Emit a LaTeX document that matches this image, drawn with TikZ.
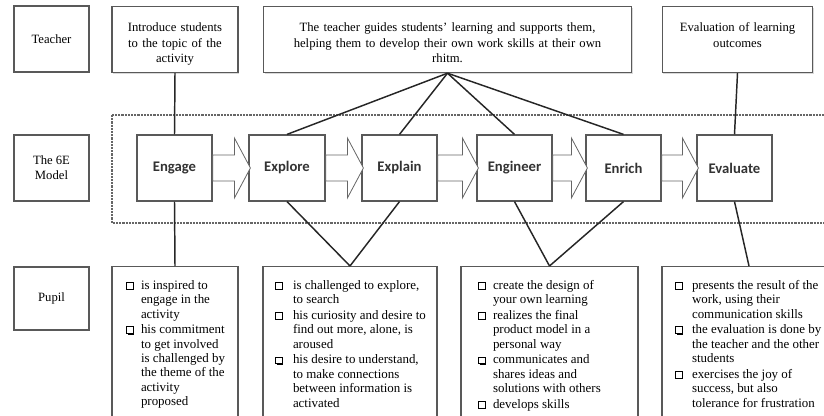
\documentclass[tikz,border=0pt]{standalone}
\usepackage{fontspec}
\setmainfont{Liberation Serif}
\newfontfamily\stagefont{Carlito}
\usetikzlibrary{calc,shadows}

\newlength{\hangwd}
\newcommand{\chkbox}{\tikz[baseline=-0.3pt]{\draw[black,line width=0.45pt] (0pt,0pt) rectangle (5pt,5pt); \draw[black,line width=1pt] (0.9pt,-0.5pt) -- (5.5pt,-0.5pt) -- (5.5pt,4.1pt);}}
\newcommand{\pitem}[1]{\par\noindent\makebox[\hangwd][l]{\chkbox}\begin{tabular}[t]{@{}l@{}}#1\end{tabular}}

\begin{document}
\begin{tikzpicture}[x=0.75pt,y=-0.75pt]
	\tikzstyle{every node}+=[font=\fontsize{9.5}{11.5}\selectfont]
	\tikzstyle{wordbox}=[draw=black!65, line width=0.9pt, fill=white, drop shadow={shadow xshift=0.8pt, shadow yshift=-0.8pt, opacity=0.3}]
	\tikzstyle{sidebox}=[wordbox, align=center, minimum width=56.25pt, minimum height=49.5pt]
	\tikzstyle{topbox}=[wordbox, align=center, inner xsep=4pt, inner ysep=0pt, text height=19pt, text depth=30.5pt]
	\tikzstyle{stagebox}=[wordbox, minimum width=56.25pt, minimum height=49.5pt, text=black!80, font=\stagefont\bfseries\fontsize{11}{13}\selectfont]
	\tikzstyle{pupilbox}=[wordbox, inner ysep=0pt, text height=17pt, text depth=100pt, font=\fontsize{9.7}{10.8}\selectfont]
	\tikzstyle{link}=[black!85, line width=1.1pt]
	\tikzstyle{flowarrow}=[draw=black!60, line width=0.6pt, fill=white, line join=miter]
	\tikzstyle{modelframe}=[black!60, line width=0.8pt, dash pattern=on 1.6pt off 0.8pt]

	\clip (0,0) rectangle (824,416);
	\draw [modelframe] (112,115) rectangle (845,223);

	% row labels
	\node [sidebox] (teacher) at (51.5,39) {Teacher};
	\node [sidebox] (model) at (51.5,168) {The 6E\\Model};
	\node [sidebox, minimum height=47.25pt] (pupil) at (51.5,298.5) {Pupil};

	% teacher row
	\node [topbox, text width=86.5pt, anchor=north] (intro) at (175,6) {Introduce students\\to the topic of the\\activity};
	\node [topbox, text width=268pt, anchor=north] (guide) at (447.5,6) {The teacher guides students' learning and supports them,\\helping them to develop their own work skills at their own\\rhitm.};
	\node [topbox, text width=105pt, anchor=north] (outcome) at (737.5,6) {Evaluation of learning\\outcomes};

	% the 6E model
	\node [stagebox] (engage) at (174.5,168) {Engage};
	\node [stagebox, minimum width=57pt] (explore) at (287,168) {Explore};
	\node [stagebox] (explain) at (399.5,168) {Explain};
	\node [stagebox] (engineer) at (514.5,168) {Engineer};
	\node [stagebox] (enrich) at (623.5,168) {Enrich};
	\node [stagebox] (evaluate) at (734.5,168) {Evaluate};

	\foreach \a/\b in {engage/explore, explore/explain, explain/engineer, engineer/enrich, enrich/evaluate}
		\draw [flowarrow] ($(\a.east)+(0,-13)$) -- ($(\b.west)+(-14,-13)$) -- ($(\b.west)+(-14,-30)$) -- ($(\b.west)+(2,0)$) -- ($(\b.west)+(-14,30)$) -- ($(\b.west)+(-14,13)$) -- ($(\a.east)+(0,13)$) -- cycle;

	% pupil row
	\node [pupilbox, inner xsep=10.5pt, anchor=north] (doengage) at (175,266) {\parbox[t]{73.5pt}{\setlength{\hangwd}{11.25pt}%
		\pitem{is inspired to\\engage in the\\activity}%
		\pitem{his commitment\\to get involved\\is challenged by\\the theme of the\\activity\\proposed}}};
	\node [pupilbox, inner xsep=9pt, anchor=north] (doexplain) at (350,266) {\parbox[t]{112.5pt}{\setlength{\hangwd}{13.5pt}%
		\pitem{is challenged to explore,\\to search}%
		\pitem{his curiosity and desire to\\find out more, alone, is\\aroused}%
		\pitem{his desire to understand,\\to make connections\\between information is\\activated}}};
	\node [pupilbox, inner xsep=12.75pt, anchor=north] (doengineer) at (549.5,266) {\parbox[t]{107.25pt}{\setlength{\hangwd}{11.25pt}%
		\pitem{create the design of\\your own learning}%
		\pitem{realizes the final\\product model in a\\personal way}%
		\pitem{communicates and\\shares ideas and\\solutions with others}%
		\pitem{develops skills}}};
	\node [pupilbox, inner xsep=9.75pt, anchor=north] (doevaluate) at (749,266) {\parbox[t]{111pt}{\setlength{\hangwd}{12.75pt}%
		\pitem{presents the result of the\\work, using their\\communication skills}%
		\pitem{the evaluation is done by\\the teacher and the other\\students}%
		\pitem{exercises the joy of\\success, but also\\tolerance for frustration}}};

	% connectors
	\draw [link] (intro.south) -- (engage.north);
	\draw [link] (engage.south) -- (doengage.north);
	\foreach \s in {explore, explain, engineer, enrich}
		\draw [link] (guide.south) -- (\s.north);
	\draw [link] (outcome.south) -- (evaluate.north);
	\draw [link] (explore.south) -- (doexplain.north);
	\draw [link] (explain.south) -- (doexplain.north);
	\draw [link] (engineer.south) -- (doengineer.north);
	\draw [link] (enrich.south) -- (doengineer.north);
	\draw [link] (evaluate.south) -- (doevaluate.north);
\end{tikzpicture}
\end{document}
